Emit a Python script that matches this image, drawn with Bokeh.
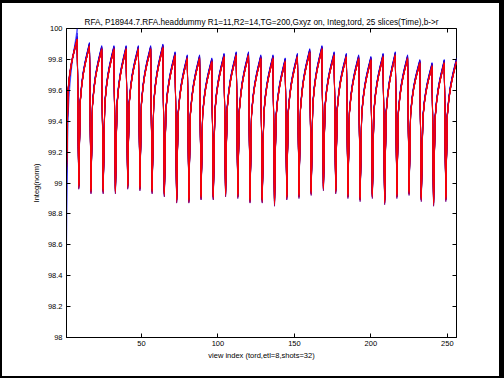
import numpy as np
from bokeh.plotting import figure
from bokeh.models import LinearAxis, Range1d, FixedTicker, CustomJSTickFormatter
from bokeh.embed import file_html
from bokeh.resources import INLINE

# ---- data ----
n_slices = 25
etl = 8
n_shots = 32
x_ticks = [50, 100, 150, 200, 250]
y_ticks = [98.0, 98.2, 98.4, 98.6, 98.8, 99.0, 99.2, 99.4, 99.6, 99.8, 100.0]

# fraction of the way from shot minimum to shot maximum, per echo (1..8)
echo_frac = [0.0, 0.60, 0.72, 0.80, 0.86, 0.91, 0.955, 1.0]

# lowest value at the first echo of shots 2..32
shot_low = [98.96, 98.93, 98.93, 98.93, 98.96, 98.95, 98.93, 98.91, 98.87, 98.87,
            98.89, 98.89, 98.91, 98.90, 98.87, 98.87, 98.85, 98.89, 98.90, 98.92,
            98.95, 98.93, 98.90, 98.88, 98.90, 98.86, 98.90, 98.92, 98.88, 98.85,
            98.88]
# highest value at the last echo of shots 2..32
shot_peak = [99.91, 99.89, 99.89, 99.89, 99.89, 99.89, 99.90, 99.85, 99.83, 99.83,
             99.81, 99.84, 99.85, 99.85, 99.83, 99.83, 99.81, 99.84, 99.87, 99.89,
             99.85, 99.84, 99.83, 99.82, 99.84, 99.85, 99.83, 99.80, 99.78, 99.80,
             99.81]

# first shot, per slice (slice 1 = blue ... slice 25 = red)
first_low = [98.56, 98.82, 98.95, 99.02, 99.05, 99.08, 99.10, 99.06, 99.10, 99.12,
             99.08, 99.10, 99.12, 99.10, 99.08, 99.12, 99.10, 99.14, 99.10, 99.08,
             99.12, 99.10, 99.06, 99.10, 99.08]
first_peak = [100.00, 99.97, 99.95, 99.94, 99.94, 99.93, 99.94, 99.93, 99.93, 99.92,
              99.93, 99.93, 99.92, 99.93, 99.93, 99.92, 99.93, 99.93, 99.92, 99.93,
              99.93, 99.92, 99.93, 99.93, 99.93]

# per-slice deviation from the shot extremes
slice_low_dev = [0.03, 0.01, 0.04, 0.02, 0.00, 0.05, 0.02, 0.03, 0.01, 0.04,
                 0.02, 0.05, 0.01, 0.03, 0.02, 0.04, 0.00, 0.03, 0.05, 0.02,
                 0.01, 0.04, 0.03, 0.02, 0.03]
slice_peak_dev = [0.000, -0.004, -0.006, -0.008, -0.010, -0.012, -0.012, -0.014, -0.015, -0.016,
                  -0.018, -0.018, -0.020, -0.020, -0.022, -0.022, -0.024, -0.024, -0.025, -0.026,
                  -0.026, -0.027, -0.028, -0.028, -0.028]

title = "RFA, P18944.7.RFA.headdummy R1=11,R2=14,TG=200,Gxyz on, Integ,tord, 25 slices(Time),b->r"
x_label = "view index (tord,etl=8,shots=32)"
y_label = "Integ(norm)"

# ---- build series ----
views = np.arange(1, etl * n_shots + 1)
series = []
for s in range(n_slices):
    ys = []
    for k in range(n_shots):
        if k == 0:
            lo, hi = first_low[s], first_peak[s]
        else:
            lo = shot_low[k - 1] + slice_low_dev[s]
            hi = shot_peak[k - 1] + slice_peak_dev[s]
        for e in range(etl):
            ys.append(lo + echo_frac[e] * (hi - lo))
    series.append(ys)

colors = []
for s in range(n_slices):
    t = s / (n_slices - 1)
    colors.append("#%02x00%02x" % (int(round(255 * t)), int(round(255 * (1 - t)))))

FONT = "Liberation Sans"

p = figure(width=504, height=378, output_backend="svg", toolbar_location=None,
           x_range=Range1d(1, 256), y_range=Range1d(98, 100),
           title=title, x_axis_label=x_label, y_axis_label=y_label,
           min_border_left=64, min_border_right=50, min_border_top=25, min_border_bottom=44,
           styles={"border-style": "solid", "border-color": "black",
                   "border-width": "3px 5px 2px 2px"})

p.background_fill_color = "white"
p.border_fill_color = "white"
p.grid.visible = False
p.outline_line_color = "black"
p.outline_line_width = 1

p.title.text_font = FONT
p.title.text_font_size = "8.2px"
p.title.text_font_style = "normal"
p.title.text_color = "black"
p.title.align = "center"
p.title.standoff = 4

fmt = CustomJSTickFormatter(code="return Number(tick.toFixed(1)).toString();")
blank = CustomJSTickFormatter(code="return '';")

for ax in (p.xaxis[0], p.yaxis[0]):
    ax.major_tick_in = 4
    ax.major_tick_out = 0
    ax.minor_tick_line_color = None
    ax.axis_line_color = "black"
    ax.major_tick_line_color = "black"
    ax.major_label_text_font = FONT
    ax.major_label_text_font_size = "7.5px"
    ax.major_label_text_color = "black"
    ax.axis_label_text_font = FONT
    ax.axis_label_text_font_size = "7.5px"
    ax.axis_label_text_font_style = "normal"
    ax.axis_label_text_color = "black"
    ax.major_label_standoff = 4
    ax.axis_label_standoff = 4

p.xaxis[0].major_label_standoff = 3
p.xaxis[0].axis_label_standoff = 2
p.xaxis[0].ticker = FixedTicker(ticks=x_ticks)
p.yaxis[0].ticker = FixedTicker(ticks=y_ticks)
p.yaxis[0].formatter = fmt

top = LinearAxis(ticker=FixedTicker(ticks=x_ticks), formatter=blank,
                 major_label_standoff=0, major_tick_in=4, major_tick_out=0,
                 major_tick_line_color="black",
                 minor_tick_line_color=None, axis_line_color=None)
right = LinearAxis(ticker=FixedTicker(ticks=y_ticks), formatter=blank,
                   major_label_standoff=0, major_tick_in=4, major_tick_out=0,
                   major_tick_line_color="black",
                   minor_tick_line_color=None, axis_line_color=None)
p.add_layout(top, "above")
p.add_layout(right, "right")

for s in range(n_slices):
    p.line(views, series[s], line_color=colors[s], line_width=0.6)

open("out.html", "w").write(file_html(p, INLINE))
